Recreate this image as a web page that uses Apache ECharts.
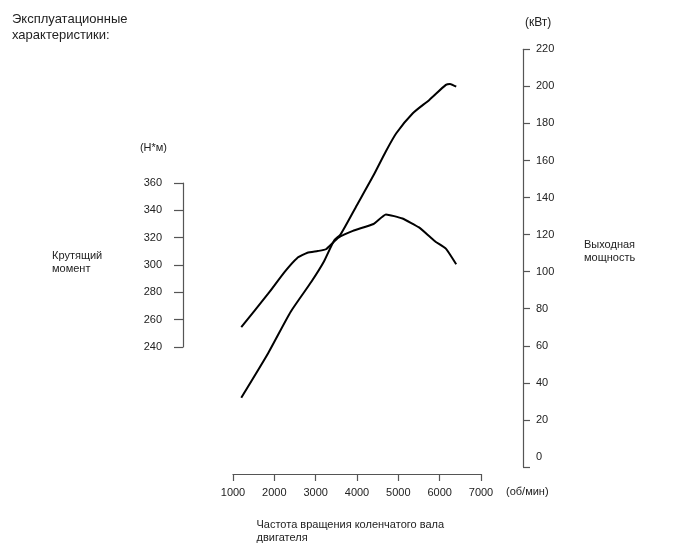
<!DOCTYPE html>
<html>
<head>
<meta charset="utf-8">
<script src="https://cdn.jsdelivr.net/npm/echarts@6/dist/echarts.min.js"></script>
<style>html,body{margin:0;padding:0;background:#fff}#c{width:688px;height:560px}</style>
</head>
<body>
<div id="c"></div>
<script>
var torqueRpm = [1200, 1850, 2250, 2550, 2800, 3050, 3250, 3550, 3900, 4400, 4700, 5100, 5500, 5750, 5900, 6150, 6400];
var torqueVal = [254.5, 279, 295, 305, 309, 310.2, 311.5, 320, 325, 330, 337, 334, 327.5, 321, 317, 312, 300.5];
var powerRpm = [1200, 1850, 2400, 2900, 3200, 3450, 3600, 4000, 4400, 4700, 4950, 5350, 5750, 6150, 6250, 6400];
var powerVal = [32, 56, 78.5, 94.7, 105.5, 117, 120, 136, 152, 165, 174.7, 185.5, 192.7, 200.8, 201.3, 199.8];
var rpmTicks = [1000, 2000, 3000, 4000, 5000, 6000, 7000];
var torqueTicks = [240, 260, 280, 300, 320, 340, 360];
var powerTicks = [0, 20, 40, 60, 80, 100, 120, 140, 160, 180, 200, 220];
var powerAxisTicks = [-5.4, 20, 40, 60, 80, 100, 120, 140, 160, 180, 200, 220];

function pairs(xs, ys) { return xs.map(function (x, i) { return [x, ys[i]]; }); }
function plain(v) { return String(v); }

var FONT = '"Liberation Sans", Arial, sans-serif';
var axisColor = '#555';
var textColor = '#222';

var chart = echarts.init(document.getElementById('c'), null, {renderer: 'canvas'});
chart.setOption({
  animation: false,
  backgroundColor: '#fff',
  textStyle: {fontFamily: FONT},
  grid: [
    {left: 233, top: 183, width: 248, height: 164},
    {left: 233, top: 49.3, width: 248, height: 417.7}
  ],
  xAxis: [
    {gridIndex: 0, type: 'value', min: 1000, max: 7000, show: false},
    {
      gridIndex: 1, type: 'value', min: 1000, max: 7000, interval: 1000,
      position: 'bottom', offset: 7,
      axisLine: {show: true, onZero: false, lineStyle: {color: axisColor, width: 1.2}},
      axisTick: {show: true, inside: false, length: 7, customValues: rpmTicks, lineStyle: {color: axisColor, width: 1.2}},
      axisLabel: {margin: 13, color: textColor, fontSize: 11, fontFamily: FONT, customValues: rpmTicks, formatter: plain},
      splitLine: {show: false},
      name: '(об/мин)', nameLocation: 'end', nameGap: 25,
      nameTextStyle: {color: textColor, fontSize: 11, fontFamily: FONT, align: 'left', verticalAlign: 'top', padding: [12, 0, 0, 0]}
    }
  ],
  yAxis: [
    {
      gridIndex: 0, type: 'value', min: 240, max: 360, interval: 20,
      position: 'left', offset: 50,
      axisLine: {show: true, onZero: false, lineStyle: {color: axisColor, width: 1.2}},
      axisTick: {show: true, length: 9, customValues: torqueTicks, lineStyle: {color: axisColor, width: 1.2}},
      axisLabel: {margin: 21, color: textColor, fontSize: 11, fontFamily: FONT, customValues: torqueTicks, formatter: plain, padding: [0, 0, 9, 0]},
      splitLine: {show: false},
      name: '(Н*м)', nameLocation: 'end', nameGap: 29.5,
      nameTextStyle: {color: textColor, fontSize: 11, fontFamily: FONT, align: 'right', verticalAlign: 'bottom', padding: [0, 16, 0, 0]}
    },
    {
      gridIndex: 1, type: 'value', min: -5.4, max: 220,
      position: 'right', offset: 42,
      axisLine: {show: true, onZero: false, lineStyle: {color: axisColor, width: 1.2}},
      axisTick: {show: true, length: 7, customValues: powerAxisTicks, lineStyle: {color: axisColor, width: 1.2}},
      axisLabel: {margin: 13, color: textColor, fontSize: 11, fontFamily: FONT, customValues: powerTicks, formatter: plain, padding: [0, 0, 7, 0]},
      splitLine: {show: false},
      name: '(кВт)', nameLocation: 'end', nameGap: 21,
      nameTextStyle: {color: textColor, fontSize: 12, fontFamily: FONT, align: 'left', verticalAlign: 'bottom', padding: [0, 0, 0, 2]}
    }
  ],
  graphic: [
    {type: 'text', left: 12, top: 11, style: {text: 'Эксплуатационные\nхарактеристики:', font: '13px ' + FONT, lineHeight: 16.5, fill: textColor}},
    {type: 'text', left: 52, top: 249, style: {text: 'Крутящий\nмомент', font: '11px ' + FONT, lineHeight: 13.5, fill: textColor}},
    {type: 'text', left: 584, top: 238.5, style: {text: 'Выходная\nмощность', font: '11px ' + FONT, lineHeight: 13, fill: textColor}},
    {type: 'text', left: 256.5, top: 518, style: {text: 'Частота вращения коленчатого вала\nдвигателя', font: '11px ' + FONT, lineHeight: 13.5, fill: textColor}}
  ],
  series: [
    {
      type: 'line', xAxisIndex: 0, yAxisIndex: 0, data: pairs(torqueRpm, torqueVal),
      showSymbol: false, smooth: 0.15, clip: false,
      lineStyle: {color: '#000', width: 2}
    },
    {
      type: 'line', xAxisIndex: 1, yAxisIndex: 1, data: pairs(powerRpm, powerVal),
      showSymbol: false, smooth: 0.2, clip: false,
      lineStyle: {color: '#000', width: 2}
    }
  ]
});
</script>
</body>
</html>
